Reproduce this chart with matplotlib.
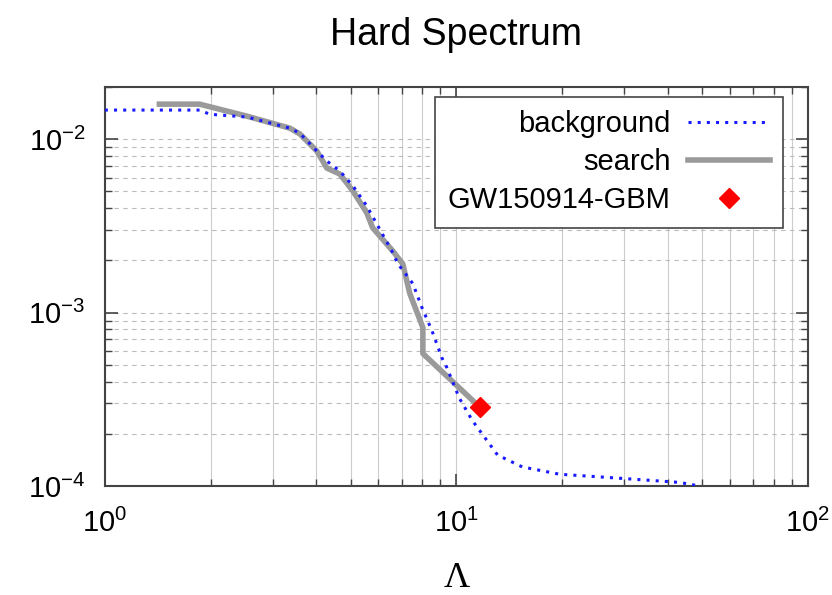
import matplotlib
matplotlib.use("Agg")
import matplotlib.pyplot as plt
from matplotlib.ticker import FixedLocator, FixedFormatter, LogLocator, NullFormatter

plt.rcParams['font.family'] = ['Liberation Sans', 'DejaVu Sans']
plt.rcParams['mathtext.fontset'] = 'custom'
plt.rcParams['mathtext.rm'] = 'Liberation Sans'
plt.rcParams['mathtext.it'] = 'Liberation Sans:italic'

# background distribution (blue dotted)
bg_lambda = [1.0, 1.86, 1.99, 2.54, 3.36, 3.59, 4.01, 4.28, 4.66, 5.08, 5.56, 5.98,
             6.55, 6.82, 7.52, 7.98, 8.52, 9.09, 9.39, 10.2, 11.1, 12.2, 13.1,
             15.4, 19.7, 25.6, 35.5, 43.2, 49.3]
bg_rate = [0.0147, 0.0147, 0.0139, 0.0134, 0.01156, 0.0108, 0.00853, 0.00748,
           0.00655, 0.00537, 0.00412, 0.00316, 0.00227, 0.00191, 0.00147, 0.00107,
           0.000788, 0.000551, 0.000483, 0.000321, 0.000239, 0.000184, 0.000151,
           0.000129, 0.000117, 0.000113, 0.000108, 0.000105, 0.0001]

# search results (gray)
search_lambda = [1.43, 1.86, 2.54, 3.36, 3.59, 4.01, 4.28, 4.66, 5.08, 5.56, 5.78,
                 6.59, 7.04, 7.37, 8.03, 8.03, 11.66]
search_rate = [0.0159, 0.0159, 0.01355, 0.01156, 0.0107, 0.00853, 0.00681, 0.00629,
               0.00502, 0.00376, 0.00308, 0.00227, 0.00191, 0.00129, 0.00082,
               0.000581, 0.000285]

# GW150914-GBM candidate
gw_lambda = [11.7]
gw_rate = [2.85e-4]

fig = plt.figure(figsize=(8.32, 5.95), dpi=100)
ax = fig.add_axes([0.126, 0.183, 0.845, 0.671])

ax.plot(bg_lambda, bg_rate, color='#1a1aff', lw=2.2, linestyle=(0, (1, 2)),
        label='background', zorder=3)
ax.plot(search_lambda, search_rate, color='#9a9a9a', lw=4,
        label='search', zorder=2)
ax.plot(gw_lambda, gw_rate, linestyle='none', marker='D', color='red',
        markersize=10, label='GW150914-GBM', zorder=4)

ax.set_xscale('log')
ax.set_yscale('log')
ax.set_xlim(1, 100)
ax.set_ylim(1e-4, 2e-2)

ax.xaxis.set_major_locator(FixedLocator([1, 10, 100]))
ax.xaxis.set_major_formatter(FixedFormatter(['$10^0$', '$10^1$', '$10^2$']))
ax.yaxis.set_major_locator(FixedLocator([1e-4, 1e-3, 1e-2]))
ax.yaxis.set_major_formatter(FixedFormatter(['$10^{-4}$', '$10^{-3}$', '$10^{-2}$']))
ax.xaxis.set_minor_locator(LogLocator(base=10, subs=range(2, 10)))
ax.yaxis.set_minor_locator(LogLocator(base=10, subs=range(2, 10)))
ax.xaxis.set_minor_formatter(NullFormatter())
ax.yaxis.set_minor_formatter(NullFormatter())

ax.tick_params(which='both', direction='in', top=True, right=True, color='#444444')
ax.tick_params(which='major', length=9, width=1.2, labelsize=21)
ax.tick_params(which='minor', length=5, width=1.0)
ax.tick_params(axis='x', which='major', pad=16)
ax.tick_params(axis='y', which='major', pad=14)

ax.grid(True, which='both', axis='x', color='#cccccc', lw=0.8, linestyle='-')
ax.grid(True, which='both', axis='y', color='#bbbbbb', lw=0.8, linestyle=(0, (4, 4)))
ax.set_axisbelow(True)

for s in ax.spines.values():
    s.set_linewidth(1.5)
    s.set_color('#444444')

ax.set_title('Hard Spectrum', fontsize=27, pad=30)
ax.set_xlabel('Λ', fontsize=26, family='Liberation Serif')
ax.xaxis.set_label_coords(0.5, -0.19)

leg = ax.legend(loc='upper right', bbox_to_anchor=(0.9644, 0.975), borderaxespad=0,
                markerfirst=False, fancybox=False, fontsize=21,
                edgecolor='#444444', framealpha=1, handlelength=2.8,
                handletextpad=0.6, borderpad=0.45, labelspacing=0.35)
leg.get_frame().set_linewidth(1.2)

fig.savefig('out.png', dpi=100)
